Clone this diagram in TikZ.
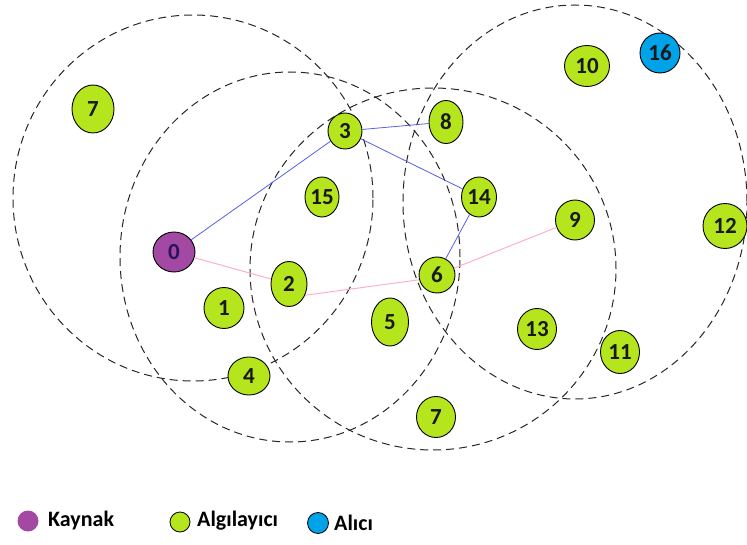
\documentclass[tikz,border=0pt]{standalone}
\usepackage{fontspec}
\setmainfont{Carlito}
\usetikzlibrary{shapes.geometric}
\definecolor{lime}{RGB}{181,230,29}
\definecolor{purp}{RGB}{163,73,164}
\definecolor{turq}{RGB}{0,162,232}
\definecolor{blueline}{RGB}{85,95,230}
\definecolor{pinkline}{RGB}{255,174,201}
\tikzset{
  sensor/.style={ellipse, draw=black, line width=0.9pt, fill=lime, inner sep=0pt,
    minimum width=38pt, minimum height=42pt, font=\fontsize{23}{23}\selectfont\bfseries, text=black!90},
  source/.style={sensor, fill=purp, text={rgb,255:red,40;green,20;blue,90}},
  sink/.style={sensor, fill=turq},
  commrange/.style={line width=1pt, dash pattern=on 8pt off 5pt, black!85},
  bluelink/.style={blueline, line width=0.8pt},
  pinklink/.style={pinkline, line width=1pt},
  legdot/.style={circle, inner sep=0pt, minimum size=21pt},
  legtext/.style={anchor=west, inner sep=0pt, font=\fontsize{22}{22}\selectfont\bfseries}
}
\begin{document}
\begin{tikzpicture}[x=1pt,y=-1pt]
\useasboundingbox (0,0) rectangle (747,545);
% range circles
\draw[commrange] (193,198) ellipse [x radius=180pt, y radius=183pt];
\draw[commrange] (290,257) ellipse [x radius=170pt, y radius=185pt];
\draw[commrange] (433,269) ellipse [x radius=183pt, y radius=181pt];
\draw[commrange] (575,202) ellipse [x radius=172pt, y radius=197pt];
% nodes
\node[sensor, minimum width=42pt, minimum height=48pt] (n7a) at (93,109) {7};
\node[sensor, minimum width=34pt, minimum height=36pt] (n3) at (345,131) {3};
\node[sensor, minimum width=34pt, minimum height=40pt] (n15) at (322,197) {15};
\node[source, minimum width=42pt, minimum height=40pt] (n0) at (174,252) {0};
\node[sensor, minimum width=34pt, minimum height=43pt] (n8) at (446,122) {8};
\node[sensor, minimum width=45pt, minimum height=41pt] (n10) at (587,66) {10};
\node[sink, minimum width=40pt, minimum height=40pt] (n16) at (660,53) {16};
\node[sensor, minimum width=35pt, minimum height=40pt] (n14) at (479,197) {14};
\node[sensor, minimum width=39pt, minimum height=40pt] (n9) at (575,220) {9};
\node[sensor, minimum width=44pt, minimum height=45pt] (n12) at (725,226) {12};
\node[sensor, minimum width=36pt, minimum height=36pt] (n6) at (437,275) {6};
\node[sensor, minimum width=37pt, minimum height=48pt] (n5) at (390,322) {5};
\node[sensor, minimum width=39pt, minimum height=41pt] (n13) at (537,329) {13};
\node[sensor, minimum width=39pt, minimum height=43pt] (n11) at (620,352) {11};
\node[sensor, minimum width=39pt, minimum height=41pt] (n7b) at (436,417) {7};
\node[sensor, minimum width=36pt, minimum height=45pt] (n2) at (289,284) {2};
\node[sensor, minimum width=40pt, minimum height=41pt] (n1) at (224,308) {1};
\node[sensor, minimum width=42pt, minimum height=38pt] (n4) at (249,376) {4};
% links
\draw[bluelink] (n0) -- (n3);
\draw[bluelink] (n3) -- (n8);
\draw[bluelink] (n3) -- (n14);
\draw[bluelink] (n14) -- (n6);
\draw[pinklink] (n0) -- (n2);
\draw[pinklink] (n2.-35) -- (n6.195);
\draw[pinklink] (n6) -- (n9);
% legend
\node[legdot, fill=purp] (lk) at (28,521) {};
\node[legtext] (tk) at (48,521) {Kaynak};
\node[legdot, fill=lime, draw=black, line width=0.8pt, minimum size=20pt] (la) at (180,522) {};
\node[legtext] (ta) at (197,521) {Algılayıcı};
\node[legdot, fill=turq, draw=black, line width=0.8pt] (lr) at (318,523) {};
\node[legtext] (tr) at (334,523) {Alıcı};
\end{tikzpicture}
\end{document}
